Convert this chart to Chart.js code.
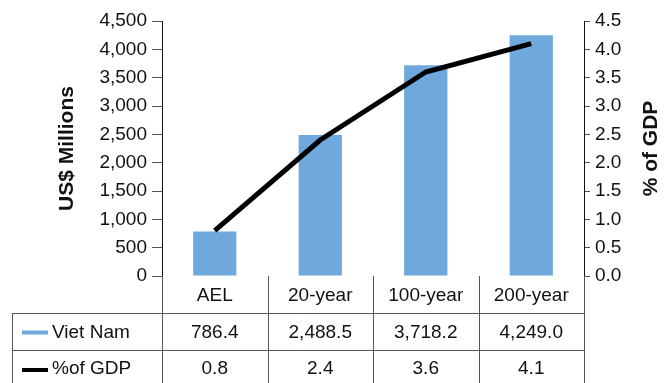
<!DOCTYPE html>
<html><head><meta charset="utf-8">
<script src="https://cdn.jsdelivr.net/npm/chart.js@4.4.1/dist/chart.umd.min.js"></script>
<style>html,body{margin:0;padding:0;background:#fff}canvas{display:block}</style>
</head><body>
<canvas id="c" width="669" height="383"></canvas>
<script>
const categories = ['AEL', '20-year', '100-year', '200-year'];
const vietNam = [786.4, 2488.5, 3718.2, 4249.0];
const pctGDP = [0.8, 2.4, 3.6, 4.1];
const vietNamLabels = ['786.4', '2,488.5', '3,718.2', '4,249.0'];
const pctLabels = ['0.8', '2.4', '3.6', '4.1'];
const seriesNames = ['Viet Nam', '%of GDP'];
const leftTitle = 'US$ Millions';
const rightTitle = '% of GDP';

const FONT = '"Liberation Sans Narrow", "Liberation Sans", sans-serif';
const BLUE = '#6fa8dc';

const tablePlugin = {
  id: 'table',
  afterDraw(chart) {
    const ctx = chart.ctx;
    const ca = chart.chartArea;
    const xs = chart.scales.x;
    const n = categories.length;
    const left = ca.left, right = ca.right, top = ca.bottom;
    const step = (right - left) / n;
    const r1 = top + 37, r2 = r1 + 37, bottom = chart.height;
    const tl = 12;
    ctx.save();
    ctx.strokeStyle = '#555';
    ctx.lineWidth = 1;
    ctx.beginPath();
    for (let i = 0; i <= n; i++) {
      const x = Math.round(left + step * i) + 0.5;
      ctx.moveTo(x, top); ctx.lineTo(x, bottom);
    }
    ctx.moveTo(tl + 0.5, r1); ctx.lineTo(tl + 0.5, bottom);
    ctx.moveTo(tl, r1 + 0.5); ctx.lineTo(right + 1, r1 + 0.5);
    ctx.moveTo(tl, r2 + 0.5); ctx.lineTo(right + 1, r2 + 0.5);
    ctx.stroke();
    ctx.fillStyle = '#111';
    ctx.font = '19px ' + FONT;
    ctx.textAlign = 'center';
    ctx.textBaseline = 'middle';
    for (let i = 0; i < n; i++) {
      const cx = xs.getPixelForValue(i);
      ctx.fillText(categories[i], cx, (top + r1) / 2 + 1);
      ctx.fillText(vietNamLabels[i], cx, (r1 + r2) / 2 + 1);
      ctx.fillText(pctLabels[i], cx, r2 + 19);
    }
    // legend keys
    ctx.fillStyle = BLUE;
    ctx.fillRect(22, (r1 + r2) / 2 - 1, 26, 4);
    ctx.fillStyle = '#000';
    ctx.fillRect(22, r2 + 18, 26, 4);
    ctx.fillStyle = '#111';
    ctx.textAlign = 'left';
    ctx.fillText(seriesNames[0], 52, (r1 + r2) / 2 + 1);
    ctx.fillText(seriesNames[1], 52, r2 + 19);
    // axis titles
    ctx.font = 'bold 21px ' + FONT;
    ctx.textAlign = 'center';
    ctx.save();
    ctx.translate(67, (ca.top + ca.bottom) / 2);
    ctx.rotate(-Math.PI / 2);
    ctx.fillText(leftTitle, 0, 0);
    ctx.restore();
    ctx.save();
    ctx.translate(651, (ca.top + ca.bottom) / 2);
    ctx.rotate(-Math.PI / 2);
    ctx.fillText(rightTitle, 0, 0);
    ctx.restore();
    ctx.restore();
  }
};

new Chart(document.getElementById('c'), {
  data: {
    labels: categories,
    datasets: [
      { type: 'line', label: seriesNames[1], data: pctGDP, yAxisID: 'y1', borderColor: '#000', borderWidth: 5, pointRadius: 0, tension: 0, order: 0 },
      { type: 'bar', label: seriesNames[0], data: vietNam, yAxisID: 'y', backgroundColor: BLUE, categoryPercentage: 1, barPercentage: 0.41, order: 1 }
    ]
  },
  options: {
    responsive: false,
    animation: false,
    layout: { padding: { top: 21, bottom: 107, left: 0, right: 0 } },
    plugins: { legend: { display: false }, tooltip: { enabled: false } },
    scales: {
      x: { display: false },
      y: {
        position: 'left', min: 0, max: 4500,
        afterFit(s) { s.width = 162; },
        ticks: { stepSize: 500, color: '#111', padding: 5, font: { family: FONT, size: 19 },
          callback: v => v.toLocaleString('en-US') },
        grid: { drawOnChartArea: false, drawTicks: true, tickLength: 10, color: '#555' },
        border: { display: true, color: '#111', width: 1 }
      },
      y1: {
        position: 'right', min: 0, max: 4.5,
        afterFit(s) { s.width = 85; },
        ticks: { stepSize: 0.5, color: '#111', padding: 5, font: { family: FONT, size: 19 },
          callback: v => Number(v).toFixed(1) },
        grid: { drawOnChartArea: false, drawTicks: true, tickLength: 6, color: '#555' },
        border: { display: true, color: '#111', width: 1 }
      }
    }
  },
  plugins: [tablePlugin]
});
</script>
</body></html>
